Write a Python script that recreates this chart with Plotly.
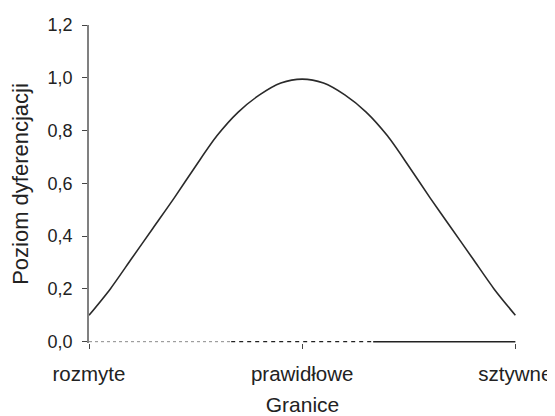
import plotly.graph_objects as go

categories = ["rozmyte", "prawidłowe", "sztywne"]
cat_pos = [0, 1, 2]

# curve sampled along the category axis (0 = rozmyte, 1 = prawidłowe, 2 = sztywne)
curve_x = [0.0, 0.1, 0.2, 0.3, 0.4, 0.5, 0.6, 0.7, 0.8, 0.9, 1.0,
           1.1, 1.2, 1.3, 1.4, 1.5, 1.6, 1.7, 1.8, 1.9, 2.0]
curve_y = [0.10, 0.20, 0.315, 0.43, 0.545, 0.665, 0.78, 0.87, 0.935, 0.98, 0.995,
           0.98, 0.935, 0.87, 0.78, 0.665, 0.545, 0.43, 0.315, 0.20, 0.10]

# three zero-level series along the base
base1_x = [0.0, 0.667]
base1_y = [0.0, 0.0]
base2_x = [0.667, 1.333]
base2_y = [0.0, 0.0]
base3_x = [1.333, 2.0]
base3_y = [0.0, 0.0]

y_ticks = [0.0, 0.2, 0.4, 0.6, 0.8, 1.0, 1.2]
y_tick_labels = ["0,0", "0,2", "0,4", "0,6", "0,8", "1,0", "1,2"]

FONT = "Liberation Sans, Arial, sans-serif"
TXT = "#222222"

fig = go.Figure()
fig.add_trace(go.Scatter(x=base1_x, y=base1_y, mode="lines",
                         line=dict(color="#8a8a8a", width=1, dash="dot"),
                         hoverinfo="skip", showlegend=False))
fig.add_trace(go.Scatter(x=base2_x, y=base2_y, mode="lines",
                         line=dict(color="#222222", width=1.2, dash="4px,4px"),
                         hoverinfo="skip", showlegend=False))
fig.add_trace(go.Scatter(x=base3_x, y=base3_y, mode="lines",
                         line=dict(color="#222222", width=1.5),
                         hoverinfo="skip", showlegend=False))
fig.add_trace(go.Scatter(x=curve_x, y=curve_y, mode="lines",
                         line=dict(color="#2a2a2a", width=1.6, shape="spline", smoothing=0.8),
                         showlegend=False))

# page body adds an 8px offset, so the figure is 8px smaller than the window
fig.update_layout(
    width=547, height=408,
    margin=dict(l=81, r=39, t=17, b=73, autoexpand=False),
    paper_bgcolor="white", plot_bgcolor="white",
    font=dict(family=FONT, color=TXT, size=17),
)
fig.update_xaxes(
    range=[0, 2.003], automargin=False,
    tickmode="array", tickvals=cat_pos, ticktext=categories,
    showgrid=False, zeroline=False, showline=False,
    ticks="outside", ticklen=5, tickwidth=1, tickcolor="#444444",
    ticklabelstandoff=7,
    tickfont=dict(size=20.5, family=FONT, color=TXT),
    title=dict(text="Granice", font=dict(size=21, family=FONT, color=TXT), standoff=20),
)
fig.update_yaxes(
    range=[-0.005, 1.2], automargin=False,
    tickmode="array", tickvals=y_ticks, ticktext=y_tick_labels,
    showgrid=False, zeroline=False,
    showline=True, linecolor="#808080", linewidth=1.5,
    ticks="outside", ticklen=5, tickwidth=1, tickcolor="#444444",
    ticklabelstandoff=6,
    tickfont=dict(size=18, family=FONT, color=TXT),
    title=dict(text="Poziom dyferencjacji", font=dict(size=22, family=FONT, color=TXT), standoff=14),
)

fig.write_html("out.html")
